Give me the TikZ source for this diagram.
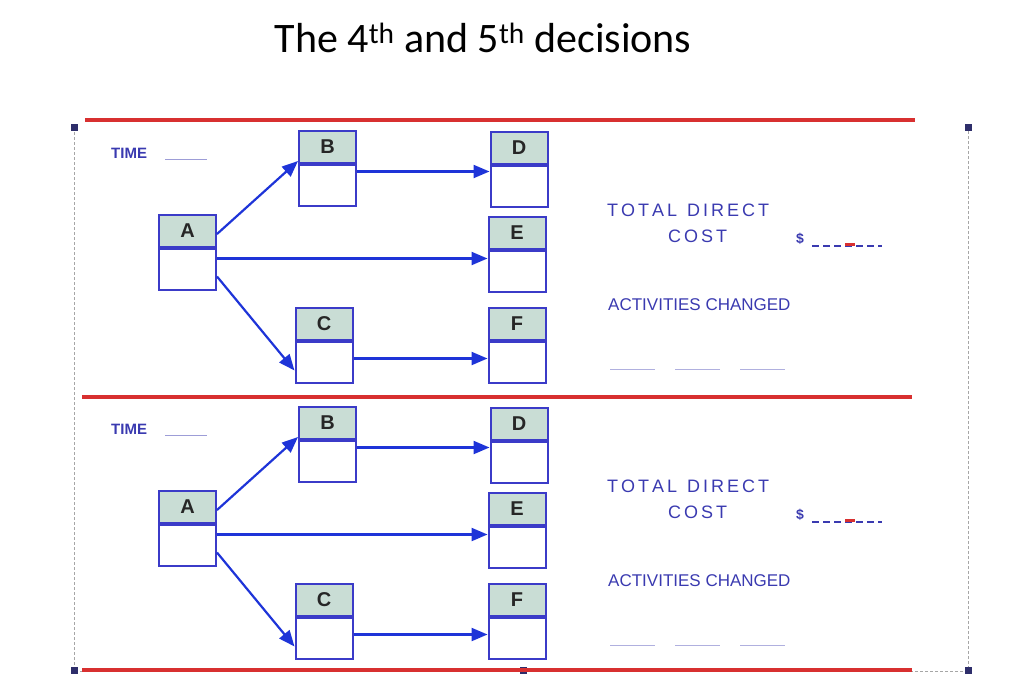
\documentclass[tikz,border=0pt]{standalone}
\usepackage{fontspec}
\setmainfont{Carlito}
\newfontfamily\arl{Liberation Sans}
\usetikzlibrary{arrows.meta}
\definecolor{bx}{HTML}{3B3BC8}
\definecolor{hd}{HTML}{C9DDD5}
\definecolor{ar}{HTML}{1E34D8}
\definecolor{rd}{HTML}{D83030}
\definecolor{tx}{HTML}{3A3AB0}
\tikzset{
 hdr/.style={draw=bx,fill=hd,line width=2pt,minimum width=57pt,minimum height=32pt,inner sep=0pt,font=\arl\bfseries\fontsize{20}{20}\selectfont,text=black!85},
 bdy/.style={draw=bx,fill=white,line width=2pt,minimum width=57pt,minimum height=41pt,inner sep=0pt},
 conn/.style={draw=ar,line width=2.2pt,-{Triangle[length=16pt,width=13pt]}},
 lab/.style={text=tx,font=\arl\fontsize{17}{17}\selectfont,inner sep=0pt,anchor=west},
 redl/.style={draw=rd,line width=3.5pt},
 frm/.style={draw=gray!70,densely dashed,line width=1pt},
 hnd/.style={fill=gray!60!blue!60!black,minimum size=7pt,inner sep=0pt}
}
\begin{document}
\begin{tikzpicture}[x=1pt,y=-1pt]
\useasboundingbox (0,0) rectangle (1024,694);
\node[font=\fontsize{42}{42}\selectfont] (title) at (483,38) {The 4\textsuperscript{th} and 5\textsuperscript{th} decisions};
\draw[frm] (74,127) -- (74,671) -- (968,671) -- (968,127);
\node[hnd] (h1) at (74,127) {}; \node[hnd] (h2) at (968,127) {};
\node[hnd] (h3) at (74,670) {}; \node[hnd] (h4) at (523,670) {}; \node[hnd] (h5) at (968,670) {};
\draw[redl] (85,120) -- (915,120);
\draw[redl] (82,397) -- (912,397);
\draw[redl] (82,670) -- (912,670);
\foreach \o/\p in {0/t,276/b}{
 \begin{scope}[yshift=-\o pt]
 \node[hdr] (\p Ah) at (187.5,231) {A}; \node[bdy,anchor=north] (\p A) at (\p Ah.south) {};
 \node[hdr] (\p Bh) at (327.5,147) {B}; \node[bdy,anchor=north] (\p B) at (\p Bh.south) {};
 \node[hdr] (\p Dh) at (519,148) {D}; \node[bdy,anchor=north] (\p D) at (\p Dh.south) {};
 \node[hdr] (\p Eh) at (517,233) {E}; \node[bdy,anchor=north] (\p E) at (\p Eh.south) {};
 \node[hdr] (\p Ch) at (324,324) {C}; \node[bdy,anchor=north] (\p C) at (\p Ch.south) {};
 \node[hdr] (\p Fh) at (517,324) {F}; \node[bdy,anchor=north] (\p F) at (\p Fh.south) {};
 \draw[conn] ([yshift=-3pt]\p Ah.east) -- ([yshift=3pt]\p Bh.south west);
 \draw[conn] ([yshift=11pt]\p A.east) coordinate (\p s1) -- (\p s1 -| \p E.west);
 \draw[conn] ([yshift=-7pt]\p A.east) -- ([yshift=-8pt]\p C.west);
 \draw[conn] ([yshift=14pt]\p B.east) coordinate (\p s2) -- (\p s2 -| \p D.west);
 \draw[conn] ([yshift=4pt]\p C.east) coordinate (\p s3) -- (\p s3 -| \p F.west);
 \node[lab,font=\arl\bfseries\fontsize{15}{15}\selectfont] (\p time) at (111,153) {TIME};
 \draw[tx!50,line width=1pt] (165,159) -- (207,159);
 \node[lab,font=\arl\fontsize{18}{18}\selectfont] (\p tdc) at (607,210) {T\,O\,T\,A\,L\ \ D\,I\,R\,E\,C\,T};
 \node[lab,font=\arl\fontsize{18}{18}\selectfont] (\p cost) at (668,236) {C\,O\,S\,T};
 \node[lab,font=\arl\bfseries\fontsize{14}{14}\selectfont] (\p dol) at (796,239) {\$};
 \draw[tx,line width=1.5pt,dash pattern=on 7pt off 4pt] (812,246) -- (882,246);
 \draw[rd,line width=3pt] (845,244) -- (855,244);
 \node[lab] (\p act) at (608,305) {ACTIVITIES CHANGED};
 \foreach \a in {610,675,740} \draw[tx!40,line width=1pt] (\a,369) -- (\a+45,369);
 \end{scope}
}
\end{tikzpicture}
\end{document}
